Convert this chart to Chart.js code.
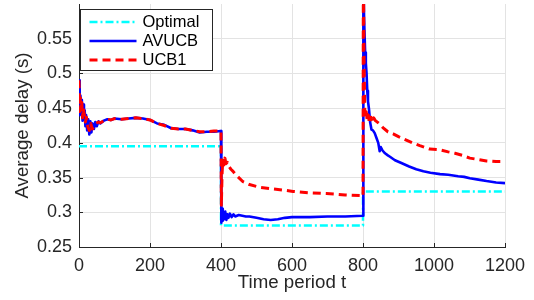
<!DOCTYPE html>
<html>
<head>
<meta charset="utf-8">
<script src="https://cdn.jsdelivr.net/npm/chart.js@4.4.0/dist/chart.umd.min.js"></script>
<style>
  body { margin: 0; background: #fff; }
</style>
</head>
<body>
<canvas id="delayChart" width="534" height="300"></canvas>
<script>
const xTicks = [0, 200, 400, 600, 800, 1000, 1200];
const yTicks = [0.25, 0.3, 0.35, 0.4, 0.45, 0.5, 0.55];

const optimalT = [0, 400, 400, 800, 800, 1200];
const optimalDelay = [0.395, 0.395, 0.281, 0.281, 0.33, 0.33];

const avucbT = [
  0, 2, 4, 6, 8, 10, 12, 14, 16, 18, 20, 23, 26, 29, 32, 35, 38, 42, 46, 50,
  55, 60, 70, 80, 90, 100, 120, 140, 160, 180, 200, 220, 240, 260, 280, 300,
  320, 340, 360, 380, 399,
  400, 401, 403, 405, 407, 409, 412, 415, 418, 421, 425, 430, 435, 440, 450,
  460, 470, 480, 500, 520, 540, 560, 580, 600, 650, 700, 750, 799,
  800, 801, 803, 806, 808, 810, 812, 814, 817, 820, 824, 828, 833, 838, 843,
  847, 850, 855, 862, 870, 876, 890, 908, 930, 950, 970, 990, 1017, 1040,
  1068, 1085, 1101, 1125, 1148, 1175, 1200
];
const avucbDelay = [
  0.490, 0.440, 0.468, 0.445, 0.462, 0.432, 0.455, 0.438, 0.447, 0.424, 0.440,
  0.418, 0.434, 0.412, 0.431, 0.415, 0.428, 0.420, 0.430, 0.424, 0.431, 0.428,
  0.432, 0.434, 0.433, 0.435, 0.434, 0.435, 0.436, 0.435, 0.433, 0.428, 0.426,
  0.421, 0.420, 0.420, 0.418, 0.415, 0.416, 0.416, 0.417,
  0.417, 0.285, 0.305, 0.288, 0.300, 0.290, 0.301, 0.289, 0.297, 0.292, 0.298,
  0.293, 0.297, 0.294, 0.296, 0.295, 0.294, 0.294, 0.292, 0.290, 0.289, 0.290,
  0.292, 0.293, 0.293, 0.294, 0.294, 0.295,
  0.295, 0.65, 0.58, 0.53, 0.515, 0.50, 0.475, 0.46, 0.448, 0.43, 0.419, 0.418,
  0.414, 0.407, 0.400, 0.388, 0.394, 0.389, 0.385, 0.382, 0.380, 0.375, 0.371,
  0.366, 0.362, 0.359, 0.357, 0.355, 0.354, 0.352, 0.351, 0.349, 0.347, 0.345,
  0.343, 0.342
];

const ucb1T = [
  0, 2, 4, 6, 8, 10, 12, 15, 18, 21, 25, 29, 33, 37, 42, 48, 55, 60, 70, 80,
  90, 100, 120, 140, 160, 180, 200, 220, 240, 260, 280, 300, 320, 340, 360,
  380, 399,
  400, 401, 403, 405, 408, 411, 414, 418, 422, 428, 434, 440, 450, 462, 480,
  509, 540, 575, 603, 650, 697, 750, 791, 799,
  800, 801, 803, 805, 807, 809, 812, 815, 818, 822, 826, 830, 835, 845, 856,
  870, 885, 900, 922, 940, 960, 988, 1016, 1040, 1059, 1080, 1101, 1125, 1148,
  1175, 1200
];
const ucb1Delay = [
  0.490, 0.445, 0.465, 0.447, 0.458, 0.436, 0.450, 0.440, 0.430, 0.437, 0.423,
  0.418, 0.428, 0.420, 0.422, 0.428, 0.430, 0.429, 0.432, 0.434, 0.433, 0.435,
  0.434, 0.435, 0.436, 0.435, 0.433, 0.428, 0.425, 0.421, 0.420, 0.420, 0.418,
  0.416, 0.416, 0.417, 0.417,
  0.417, 0.310, 0.355, 0.375, 0.368, 0.378, 0.370, 0.372, 0.366, 0.362, 0.359,
  0.355, 0.350, 0.344, 0.340, 0.336, 0.334, 0.332, 0.330, 0.328, 0.327, 0.325,
  0.324, 0.323,
  0.323, 0.65, 0.52, 0.445, 0.438, 0.445, 0.432, 0.440, 0.428, 0.437, 0.430,
  0.436, 0.432, 0.428, 0.422, 0.416, 0.413, 0.409, 0.404, 0.400, 0.396, 0.391,
  0.390, 0.387, 0.385, 0.382, 0.378, 0.376, 0.374, 0.373, 0.373
];

const seriesNames = ["Optimal", "AVUCB", "UCB1"];

const axisColor = "#262626";
const fontFamily = "'Liberation Sans', Arial, Helvetica, sans-serif";

function toPoints(ts, vs) {
  return ts.map((t, i) => ({ x: t, y: vs[i] }));
}

// legend drawn inside the plot, top-left, like the original figure
const insideLegend = {
  id: "insideLegend",
  afterDatasetsDraw(chart) {
    const ctx = chart.ctx;
    const area = chart.chartArea;
    const x0 = area.left + 1.5;
    const y0 = area.top + 5.5;
    ctx.save();
    ctx.fillStyle = "#fff";
    ctx.fillRect(x0, y0, 132, 61);
    ctx.strokeStyle = axisColor;
    ctx.lineWidth = 1;
    ctx.setLineDash([]);
    ctx.strokeRect(x0, y0, 132, 61);
    ctx.font = "16.5px " + fontFamily;
    ctx.textBaseline = "middle";
    chart.data.datasets.forEach((ds, i) => {
      const y = y0 + 12.5 + i * 19;
      ctx.strokeStyle = ds.borderColor;
      ctx.lineWidth = ds.borderWidth;
      ctx.setLineDash(ds.borderDash || []);
      ctx.beginPath();
      ctx.moveTo(x0 + 9, y);
      ctx.lineTo(x0 + 56, y);
      ctx.stroke();
      ctx.setLineDash([]);
      ctx.fillStyle = "#000";
      ctx.fillText(ds.label, x0 + 62, y + 0.5);
    });
    ctx.restore();
  }
};

// small inward tick marks on the left and bottom axes
const innerTicks = {
  id: "innerTicks",
  beforeDatasetsDraw(chart) {
    const ctx = chart.ctx;
    const area = chart.chartArea;
    const xs = chart.scales.x;
    const ys = chart.scales.y;
    ctx.save();
    ctx.strokeStyle = axisColor;
    ctx.lineWidth = 1;
    ctx.beginPath();
    xTicks.forEach((v) => {
      const px = Math.round(xs.getPixelForValue(v)) + 0.5;
      ctx.moveTo(px, area.bottom);
      ctx.lineTo(px, area.bottom - 4);
    });
    yTicks.forEach((v) => {
      const py = Math.round(ys.getPixelForValue(v)) + 0.5;
      ctx.moveTo(area.left, py);
      ctx.lineTo(area.left + 4, py);
    });
    ctx.stroke();
    ctx.restore();
  }
};

const ctx = document.getElementById("delayChart").getContext("2d");
const delayChart = new Chart(ctx, {
  type: "line",
  data: {
    datasets: [
      {
        label: seriesNames[0],
        data: toPoints(optimalT, optimalDelay),
        borderColor: "#00ffff",
        borderWidth: 2.5,
        borderDash: [8, 3, 2, 3],
        pointRadius: 0,
        order: 3,
      },
      {
        label: seriesNames[1],
        data: toPoints(avucbT, avucbDelay),
        borderColor: "#0000ff",
        borderWidth: 2.6,
        pointRadius: 0,
        order: 2,
      },
      {
        label: seriesNames[2],
        data: toPoints(ucb1T, ucb1Delay),
        borderColor: "#ff0000",
        borderWidth: 3,
        borderDash: [8, 5],
        pointRadius: 0,
        order: 1,
      },
    ],
  },
  options: {
    responsive: false,
    animation: false,
    devicePixelRatio: 1,
    layout: { padding: { top: 4, right: 29, left: 0, bottom: 0 } },
    elements: { line: { tension: 0, borderJoinStyle: "round" } },
    plugins: {
      legend: { display: false },
      tooltip: { enabled: false },
    },
    scales: {
      x: {
        type: "linear",
        min: 0,
        max: 1200,
        afterBuildTicks: (scale) => {
          scale.ticks = xTicks.map((v) => ({ value: v }));
        },
        afterFit: (scale) => {
          scale.height = 53;
          scale.paddingLeft = 0;
          scale.paddingRight = 0;
        },
        ticks: {
          autoSkip: false,
          maxRotation: 0,
          padding: 8,
          color: axisColor,
          font: { family: fontFamily, size: 18 },
          callback: (v) => String(v),
        },
        grid: { color: "#e3e3e3", drawTicks: false },
        border: { color: axisColor, width: 1 },
        title: {
          display: true,
          text: "Time period t",
          color: axisColor,
          font: { family: fontFamily, size: 18.7 },
          padding: { top: 0, bottom: 6 },
        },
      },
      y: {
        type: "linear",
        min: 0.25,
        max: 0.6,
        afterBuildTicks: (scale) => {
          scale.ticks = yTicks.map((v) => ({ value: v }));
        },
        afterFit: (scale) => {
          scale.width = 79;
          scale.paddingTop = 0;
          scale.paddingBottom = 0;
        },
        ticks: {
          padding: 7,
          color: axisColor,
          font: { family: fontFamily, size: 18 },
          callback: (v) => String(+Number(v).toFixed(2)),
        },
        grid: { color: "#e3e3e3", drawTicks: false },
        border: { color: axisColor, width: 1 },
        title: {
          display: true,
          text: "Average delay (s)",
          color: axisColor,
          font: { family: fontFamily, size: 18.7 },
          padding: { top: 12, bottom: 0 },
        },
      },
    },
  },
  plugins: [innerTicks, insideLegend],
});
</script>
</body>
</html>
